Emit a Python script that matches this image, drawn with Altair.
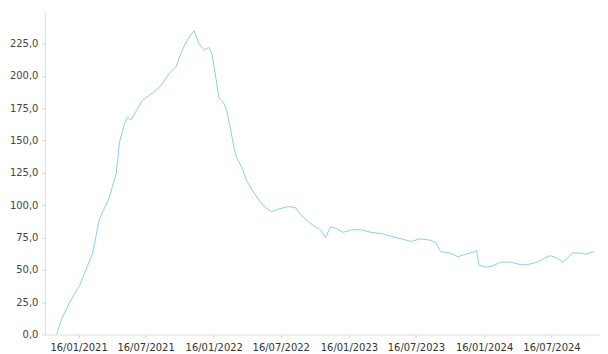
import altair as alt
import pandas as pd

dates = ["2020-11-18","2020-12-01","2020-12-23",
 "2021-01-19","2021-02-23","2021-03-13","2021-04-09","2021-04-28","2021-05-06","2021-05-20","2021-05-28","2021-06-07","2021-06-21","2021-07-07","2021-07-26","2021-08-14","2021-08-30","2021-09-18","2021-10-06","2021-10-23","2021-11-10","2021-11-24","2021-12-07","2021-12-21",
 "2022-01-03","2022-01-11","2022-01-17","2022-01-30","2022-02-12","2022-02-20","2022-03-03","2022-03-11","2022-03-19","2022-04-02","2022-04-15","2022-04-29","2022-05-18","2022-06-05","2022-06-21","2022-07-10","2022-08-06","2022-08-25","2022-09-07","2022-09-29","2022-10-18","2022-10-31","2022-11-14","2022-11-27","2022-12-13",
 "2023-01-01","2023-01-23","2023-02-18","2023-03-17","2023-04-13","2023-05-10","2023-06-06","2023-07-03","2023-07-27","2023-08-23","2023-09-08","2023-09-21","2023-10-16","2023-11-06","2023-11-25","2023-12-22","2023-12-27",
 "2024-01-02","2024-01-20","2024-02-08","2024-03-01","2024-03-28","2024-04-23","2024-05-12","2024-06-08","2024-06-27","2024-07-13","2024-08-01","2024-08-14","2024-08-28","2024-09-10","2024-10-02","2024-10-15","2024-11-08"]

values = [0,12,25,
 38,63,89,106,125,148,163,168,166,173,181,185,189,194,202,207,220,230,235,225,220,
 222,217,207,183,179,173,158,145,137,129,119,112,104,98,95,97,99,98,93,87,83,81,75,83,82,
 79,81,81,79,78,76,74,72,74,73,71,64,63,60,62,64,65,
 54,52,53,56,56,54,54,56,59,61,59,56,59,63,63,62,64]

tick_dates = ["2021-01-16","2021-07-16","2022-01-16","2022-07-16",
              "2023-01-16","2023-07-16","2024-01-16","2024-07-16"]
y_ticks = [0, 25, 50, 75, 100, 125, 150, 175, 200, 225]
x_domain = ["2020-10-17", "2024-11-24"]
y_domain = [0, 249]

def dt(s):
    t = pd.Timestamp(s)
    return alt.DateTime(year=t.year, month=t.month, date=t.day, utc=True)

df = pd.DataFrame({"date": dates, "value": values})

chart = alt.Chart(df).mark_line(color="#86d0ec", strokeWidth=1).encode(
    x=alt.X("date:T",
            scale=alt.Scale(type="utc", domain=[dt(d) for d in x_domain]),
            axis=alt.Axis(values=[dt(d) for d in tick_dates],
                          labelExpr="utcFormat(datum.value, '%d/%m/%Y')",
                          title=None, grid=False, domainColor="#dddddd",
                          tickColor="#cccccc", tickSize=3, labelPadding=5,
                          labelFont="DejaVu Sans", labelFontSize=10,
                          labelColor="#333333", labelOverlap=False,
                          labelFlush=False)),
    y=alt.Y("value:Q",
            scale=alt.Scale(domain=y_domain, nice=False),
            axis=alt.Axis(values=y_ticks,
                          labelExpr="replace(format(datum.value, '.1f'), '.', ',')",
                          title=None, grid=False, domainColor="#dddddd",
                          tickColor="#cccccc", tickSize=3, labelPadding=4,
                          labelFont="DejaVu Sans", labelFontSize=10,
                          labelColor="#444444")),
).properties(
    width=557, height=323,
    autosize=alt.AutoSizeParams(type="none"),
    padding={"left": 37, "top": 4, "right": 0, "bottom": 19},
).configure_view(stroke=None)

chart.save("out.html", embed_options={"renderer": "svg", "actions": False})
